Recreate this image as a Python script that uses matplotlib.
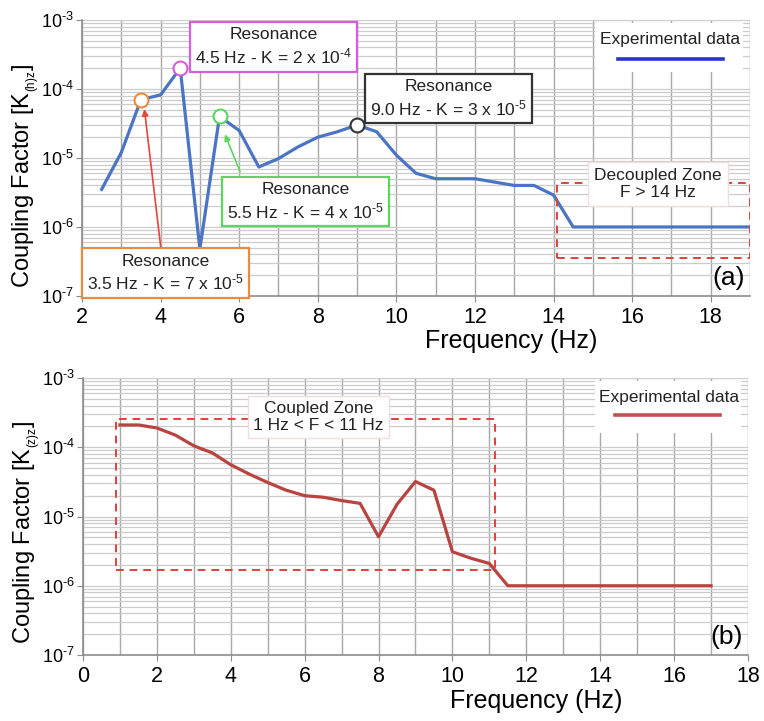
import matplotlib
matplotlib.use("Agg")
import matplotlib.pyplot as plt
from matplotlib.patches import Rectangle
from matplotlib.ticker import (LogLocator, MultipleLocator, NullFormatter,
                               FuncFormatter)
import math

plt.rcParams['font.family'] = ['Liberation Sans', 'DejaVu Sans']
plt.rcParams['mathtext.fontset'] = 'custom'
plt.rcParams['mathtext.rm'] = 'Liberation Sans'
plt.rcParams['mathtext.it'] = 'Liberation Sans:italic'
plt.rcParams['mathtext.bf'] = 'Liberation Sans:bold'

# Panel (a): horizontal coupling factor
freq_a = [2.5, 3, 3.5, 4, 4.5, 5, 5.5, 6, 6.5, 7, 7.5, 8, 8.5, 9, 9.5,
          10, 10.5, 11, 12, 13, 13.5, 14, 14.5, 19]
k_a = [3.5e-6, 1.2e-5, 7e-5, 8.2e-5, 2e-4, 4.8e-7, 4e-5, 2.5e-5, 7.4e-6,
       9.8e-6, 1.45e-5, 2e-5, 2.4e-5, 3e-5, 2.4e-5,
       1.1e-5, 6e-6, 5e-6, 5e-6, 4e-6, 4e-6, 2.9e-6, 1e-6, 1e-6]

# Resonances highlighted in panel (a)
res_freq = [3.5, 4.5, 5.5, 9.0]
res_k = [7e-5, 2e-4, 4e-5, 3e-5]
res_mant = ["7", "2", "4", "3"]
res_exp = ["-5", "-4", "-5", "-5"]
res_colors = ["#ee8a3c", "#d65ed6", "#5cd65c", "#333333"]

# Panel (b): vertical coupling factor
freq_b = [1, 1.5, 2, 2.5, 3, 3.5, 4, 4.5, 5, 5.5, 6, 6.5, 7, 7.5, 8, 8.5,
          9, 9.5, 10, 10.5, 11, 11.5, 17]
k_b = [2.1e-4, 2.1e-4, 1.9e-4, 1.5e-4, 1.05e-4, 8.3e-5, 5.6e-5, 4.1e-5,
       3.1e-5, 2.4e-5, 2.0e-5, 1.9e-5, 1.7e-5, 1.55e-5, 5.1e-6, 1.5e-5,
       3.2e-5, 2.4e-5, 3.1e-6, 2.5e-6, 2.1e-6, 1e-6, 1e-6]

# Zones (x0, x1, y0, y1)
decoupled_zone = (14.1, 19.0, 3.5e-7, 4.3e-6)
coupled_zone = (0.9, 11.15, 1.7e-6, 2.6e-4)

BLUE = "#4a74c4"
BLUE_LEG = "#2b35c8"
RED = "#b8433f"
GRID_V = "#a8a8a8"
GRID_H = "#cccccc"
ZONE = "#e0413c"

fig = plt.figure(figsize=(7.64, 7.21), dpi=100)
ax_a = fig.add_axes([0.1073, 0.5895, 0.8744, 0.3828])
ax_b = fig.add_axes([0.1086, 0.0915, 0.8704, 0.3842])


def pow10_label(v, pos):
    e = int(round(math.log10(v)))
    return r"$\mathregular{10^{\text{%d}}}$" % e


def style_axes(ax, xlim, xmajor, ylabel, panel, xlab_x, ylab_y):
    ax.set_yscale("log")
    ax.set_ylim(1e-7, 1e-3)
    ax.set_xlim(*xlim)
    ax.xaxis.set_major_locator(MultipleLocator(xmajor))
    ax.xaxis.set_minor_locator(MultipleLocator(1))
    ax.yaxis.set_major_locator(LogLocator(base=10, numticks=10))
    ax.yaxis.set_major_formatter(FuncFormatter(pow10_label))
    ax.yaxis.set_minor_locator(LogLocator(base=10, subs=range(2, 10), numticks=20))
    ax.yaxis.set_minor_formatter(NullFormatter())
    ax.grid(True, which="both", axis="x", color=GRID_V, lw=1.0, zorder=0)
    ax.grid(True, which="both", axis="y", color=GRID_H, lw=0.9, zorder=0)
    for side in ("top", "right"):
        ax.spines[side].set_visible(False)
    for side in ("left", "bottom"):
        ax.spines[side].set_color("#8c8c8c")
        ax.spines[side].set_linewidth(1.2)
    ax.tick_params(axis="x", which="major", labelsize=15.5, length=4,
                   color="#8c8c8c", pad=4)
    ax.tick_params(axis="y", which="major", labelsize=13, length=4,
                   color="#8c8c8c", pad=2)
    ax.tick_params(which="minor", length=0)
    ax.set_xlabel("Frequency (Hz)", fontsize=18, labelpad=1)
    ax.xaxis.label.set_x(xlab_x)
    ax.set_ylabel(ylabel, fontsize=17, labelpad=-1)
    ax.yaxis.label.set_y(ylab_y)
    ax.text(0.992, 0.02, panel, transform=ax.transAxes, ha="right",
            va="bottom", fontsize=19, zorder=6)


style_axes(ax_a, (2, 19), 2,
           r"Coupling Factor [K$_{{}_{\mathregular{(h)z}}}$]", "(a)",
           0.642, 0.433)
style_axes(ax_b, (0, 18), 2,
           r"Coupling Factor [K$_{{}_{\mathregular{(z)z}}}$]", "(b)",
           0.681, 0.444)

# ---- panel (a) ----
ax_a.plot(freq_a, k_a, color=BLUE, lw=2.3, zorder=3, solid_joinstyle="round")
for f, k, c in zip(res_freq, res_k, res_colors):
    ax_a.plot([f], [k], marker="o", ms=10, mfc="white", mec=c, mew=1.5,
              zorder=5)

x0, x1, y0, y1 = decoupled_zone
ax_a.add_patch(Rectangle((x0, y0), x1 - x0, y1 - y0, fill=False,
                         ec=ZONE, ls=(0, (4, 3)), lw=1.4, zorder=4))

box_pos = {3.5: (0.125, 0.083), 4.5: (0.287, 0.902),
           5.5: (0.335, 0.342), 9.0: (0.549, 0.716)}
for f, m, e, c in zip(res_freq, res_mant, res_exp, res_colors):
    bx, by = box_pos[f]
    ax_a.text(bx, by,
              "Resonance\n%.1f Hz - K = %s x $10^{\\text{%s}}$" % (f, m, e),
              transform=ax_a.transAxes, ha="center", va="center",
              fontsize=12.5, color="#222222", linespacing=1.25, zorder=7,
              bbox=dict(boxstyle="square,pad=0.3", fc="white", ec=c, lw=1.6))

ax_a.annotate("", xy=(3.58, 5.6e-5), xytext=(4.01, 4.8e-7),
              arrowprops=dict(arrowstyle="-|>", color="#e8443c", lw=1.2,
                              mutation_scale=9), zorder=6)
ax_a.annotate("", xy=(5.61, 2.4e-5), xytext=(6.05, 5.8e-6),
              arrowprops=dict(arrowstyle="-|>", color="#5cd65c", lw=1.2,
                              mutation_scale=9), zorder=6)

ax_a.text(0.862, 0.406, "Decoupled Zone\nF > 14 Hz", transform=ax_a.transAxes,
          ha="center", va="center", fontsize=12.5, color="#222222",
          linespacing=1.2, zorder=7,
          bbox=dict(boxstyle="square,pad=0.35", fc="white", ec="#f3dede", lw=1))

# legend (a)
ax_a.add_patch(Rectangle((0.768, 0.81), 0.222, 0.18, transform=ax_a.transAxes,
                         fc="white", ec="none", zorder=4))
ax_a.text(0.880, 0.928, "Experimental data", transform=ax_a.transAxes,
          ha="center", va="center", fontsize=12.5, color="#222222", zorder=5)
ax_a.plot([0.802, 0.960], [0.859, 0.859], transform=ax_a.transAxes,
          color=BLUE_LEG, lw=2.6, zorder=5)

# ---- panel (b) ----
ax_b.plot(freq_b, k_b, color=RED, lw=2.3, zorder=3, solid_joinstyle="round")

x0, x1, y0, y1 = coupled_zone
ax_b.add_patch(Rectangle((x0, y0), x1 - x0, y1 - y0, fill=False,
                         ec=ZONE, ls=(0, (4, 3)), lw=1.4, zorder=4))
ax_b.text(0.354, 0.859, "Coupled Zone\n1 Hz < F < 11 Hz",
          transform=ax_b.transAxes, ha="center", va="center", fontsize=12.5,
          color="#222222", linespacing=1.2, zorder=7,
          bbox=dict(boxstyle="square,pad=0.3", fc="white", ec="#f3dede", lw=1))

# legend (b)
ax_b.add_patch(Rectangle((0.77, 0.80), 0.22, 0.19, transform=ax_b.transAxes,
                         fc="white", ec="none", zorder=4))
ax_b.text(0.881, 0.931, "Experimental data", transform=ax_b.transAxes,
          ha="center", va="center", fontsize=12.5, color="#222222", zorder=5)
ax_b.plot([0.800, 0.958], [0.866, 0.866], transform=ax_b.transAxes,
          color="#c0504d", lw=2.6, zorder=5)

fig.savefig("out.png", dpi=100, facecolor="white")
